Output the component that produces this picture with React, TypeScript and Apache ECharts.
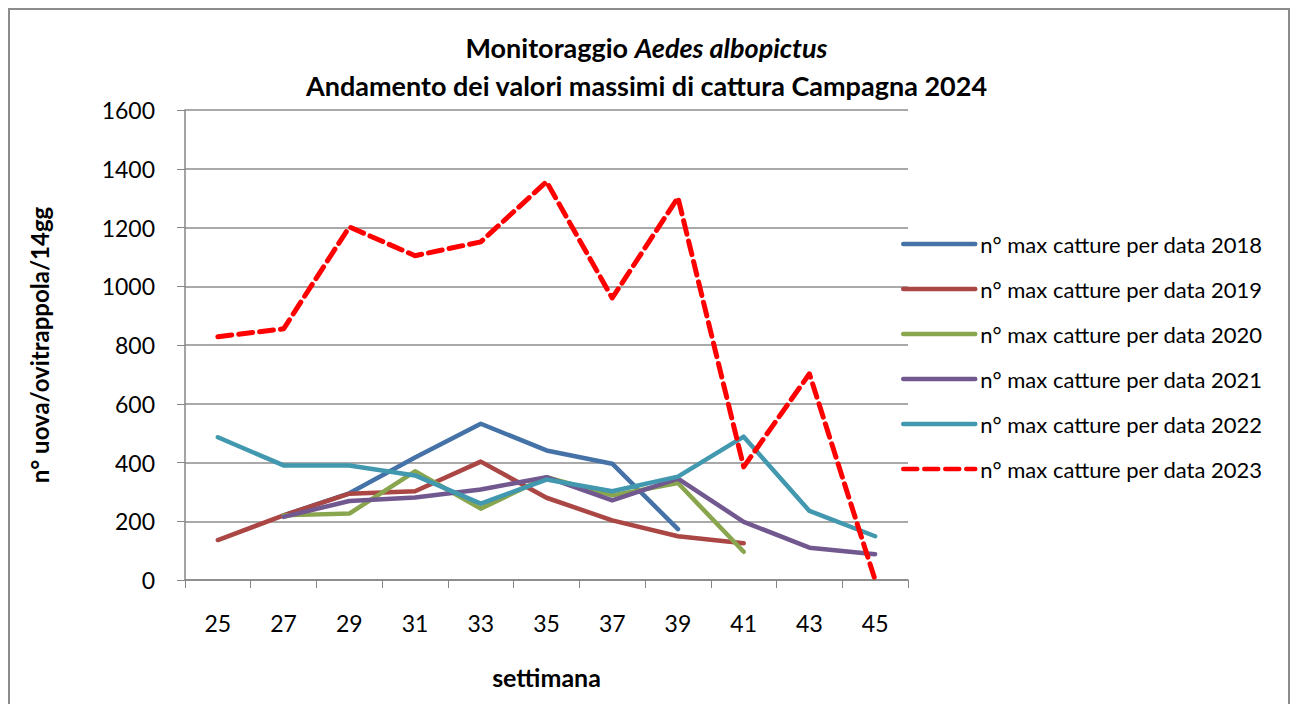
import React, { useEffect, useRef } from "react";
import * as echarts from "echarts";

const weeks = ["25", "27", "29", "31", "33", "35", "37", "39", "41", "43", "45"];
const s2018 = [null, 220, 295, 417, 532, 441, 396, 173, null, null, null];
const s2019 = [136, 220, 294, 302, 403, 280, 203, 149, 125, null, null];
const s2020 = [null, 220, 226, 370, 243, 350, 288, 330, 96, null, null];
const s2021 = [null, 215, 269, 281, 308, 350, 271, 345, 198, 110, 88];
const s2022 = [486, 390, 390, 356, 260, 342, 302, 352, 488, 235, 149];
const s2023 = [828, 855, 1202, 1104, 1151, 1356, 960, 1302, 385, 702, 0];
const yTicks = [0, 200, 400, 600, 800, 1000, 1200, 1400, 1600];

const seriesNames = [
  "n° max catture per data 2018",
  "n° max catture per data 2019",
  "n° max catture per data 2020",
  "n° max catture per data 2021",
  "n° max catture per data 2022",
  "n° max catture per data 2023",
];
const colors = ["#4572A7", "#AA4643", "#89A54E", "#71588F", "#4198AF", "#FF0000"];

const FONT = "Lato, 'Open Sans', sans-serif";

export default function App() {
  const ref = useRef<HTMLDivElement>(null);
  useEffect(() => {
    if (!ref.current) return;
    const chart = echarts.init(ref.current, undefined, { renderer: "svg" });
    const data = [s2018, s2019, s2020, s2021, s2022, s2023];
    chart.setOption({
      animation: false,
      backgroundColor: "#ffffff",
      textStyle: { fontFamily: FONT },
      title: {
        left: "center",
        top: 23,
        text: "{b|Monitoraggio }{i|Aedes albopictus}\n{b|Andamento dei valori massimi di cattura Campagna 2024}",
        textStyle: {
          rich: {
            b: { fontFamily: FONT, fontSize: 27, fontWeight: "bold", color: "#000", lineHeight: 38 },
            i: { fontFamily: FONT, fontSize: 27, fontWeight: "bold", fontStyle: "italic", color: "#000", lineHeight: 38 },
          },
        },
      },
      graphic: [
        {
          type: "rect",
          shape: { x: 9, y: 9, width: 1280, height: 720 },
          style: { fill: "none", stroke: "#8c8c8c", lineWidth: 2 },
          silent: true,
        },
      ],
      legend: {
        orient: "vertical",
        left: 896,
        top: 228,
        itemWidth: 72,
        itemHeight: 20,
        itemGap: 23,
        data: seriesNames,
        itemStyle: { opacity: 0 },
        lineStyle: { width: 4.5 },
        textStyle: { fontFamily: FONT, fontSize: 22, color: "#000", lineHeight: 20 },
      },
      grid: { left: 185, right: 385, top: 110, bottom: 124, containLabel: false },
      xAxis: {
        type: "category",
        data: weeks,
        boundaryGap: true,
        name: "settimana",
        nameLocation: "middle",
        nameGap: 84,
        nameTextStyle: { fontFamily: FONT, fontSize: 25, fontWeight: "bold", color: "#000" },
        axisLine: { show: true, lineStyle: { color: "#868686", width: 1.5 } },
        axisTick: { show: true, length: 8, alignWithLabel: false, lineStyle: { color: "#868686" } },
        axisLabel: { fontFamily: FONT, fontSize: 23, color: "#000", margin: 31 },
      },
      yAxis: {
        type: "value",
        min: 0,
        max: 1600,
        interval: 200,
        name: "n° uova/ovitrappola/14gg",
        nameLocation: "middle",
        nameGap: 134,
        nameRotate: 90,
        nameTextStyle: { fontFamily: FONT, fontSize: 24, fontWeight: "bold", color: "#000" },
        axisLine: { show: true, lineStyle: { color: "#868686", width: 1.5 } },
        axisTick: { show: true, length: 8, lineStyle: { color: "#868686" } },
        axisLabel: {
          fontFamily: FONT,
          fontSize: 23,
          color: "#000",
          margin: 30,
          formatter: (v: number) => (yTicks.includes(v) ? String(v) : ""),
        },
        splitLine: { show: true, lineStyle: { color: "#8c8c8c", width: 1.5 } },
      },
      series: data.map((d, i) => ({
        name: seriesNames[i],
        type: "line",
        data: d,
        symbol: "none",
        connectNulls: false,
        color: colors[i],
        lineStyle: {
          color: colors[i],
          width: i === 5 ? 5 : 4.5,
          type: i === 5 ? [14, 7] : "solid",
          cap: "round",
          join: "round",
        },
        z: i === 5 ? 10 : 2 + i,
      })),
    });
    return () => chart.dispose();
  }, []);
  return <div ref={ref} style={{ position: "fixed", left: 0, top: 0, width: 1293, height: 704 }} />;
}
